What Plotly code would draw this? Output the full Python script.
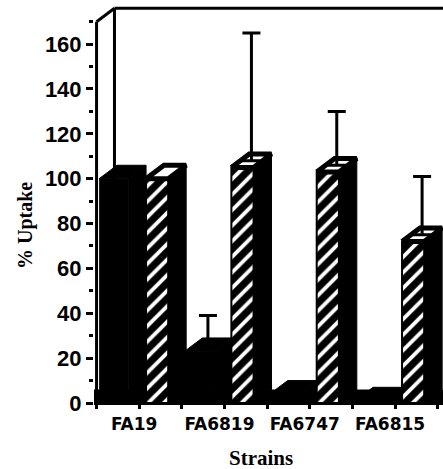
import plotly.graph_objects as go

# ---- data ----
strains = ["FA19", "FA6819", "FA6747", "FA6815"]
control = [100, 23, 4, 1]            # solid black bars
control_err = [None, 16, None, 3]
treated = [100, 105, 103, 72]        # hatched bars
treated_err = [None, 60, 27, 29]
y_tick_vals = [0, 20, 40, 60, 80, 100, 120, 140, 160]

# ---- geometry (pseudo 3-D) ----
DX = 0.21      # depth offset in category units
DY = 6         # depth offset in data units
YTOP = 170
BLACK_OFF, BLACK_W = -0.47, 0.34
HATCH_OFF, HATCH_W = 0.08, 0.26
XMIN, XMAX = -0.53, 3.56

x = list(range(len(strains)))


def faces(vals, off, w):
    sx, sy, tx, ty = [], [], [], []
    for i, v in enumerate(vals):
        a = i + off
        b = a + w
        sx += [b, b, b + DX, b + DX, b, None]
        sy += [0, v, v + DY, DY, 0, None]
        tx += [a, b, b + DX, a + DX, a, None]
        ty += [v, v, v + DY, v + DY, v, None]
    return sx, sy, tx, ty


def err_points(vals, errs, off, w):
    ex, ey, ep = [], [], []
    for i, (v, e) in enumerate(zip(vals, errs)):
        if e is None:
            continue
        ex.append(i + off + w / 2 + DX / 2)
        ey.append(v + DY / 2)
        ep.append(max(e - DY / 2, 0))
    return ex, ey, ep


fig = go.Figure()

fig.add_bar(x=x, y=control, offset=BLACK_OFF, width=BLACK_W,
            marker=dict(color="black", line=dict(width=0)), showlegend=False)
fig.add_bar(x=x, y=treated, offset=HATCH_OFF, width=HATCH_W,
            marker=dict(color="black", line=dict(color="black", width=2),
                        pattern=dict(shape="/", fgcolor="white", bgcolor="black",
                                     size=11, solidity=0.35, fillmode="replace")),
            showlegend=False)

for vals, off, w, topfill, toplw in [(control, BLACK_OFF, BLACK_W, "black", 1),
                                     (treated, HATCH_OFF, HATCH_W, "white", 5)]:
    sx, sy, tx, ty = faces(vals, off, w)
    fig.add_scatter(x=sx, y=sy, mode="lines", fill="toself", fillcolor="black",
                    line=dict(color="black", width=1), hoverinfo="skip", showlegend=False)
    fig.add_scatter(x=tx, y=ty, mode="lines", fill="toself", fillcolor=topfill,
                    line=dict(color="black", width=toplw), hoverinfo="skip", showlegend=False)

for vals, errs, off, w in [(control, control_err, BLACK_OFF, BLACK_W),
                           (treated, treated_err, HATCH_OFF, HATCH_W)]:
    ex, ey, ep = err_points(vals, errs, off, w)
    fig.add_scatter(x=ex, y=ey, mode="markers", marker=dict(size=1, color="rgba(0,0,0,0)"),
                    error_y=dict(type="data", array=ep, arrayminus=[0] * len(ep),
                                 symmetric=False, color="black", thickness=3, width=9),
                    hoverinfo="skip", showlegend=False)

shapes = [
    dict(type="rect", xref="x", yref="y", x0=XMIN, x1=XMAX, y0=0, y1=DY,
         fillcolor="black", line=dict(width=0), layer="below"),
    dict(type="line", xref="x", yref="y", x0=-0.5 + DX, x1=-0.5 + DX, y0=DY, y1=YTOP + DY,
         line=dict(color="black", width=3), layer="below"),
    dict(type="line", xref="x", yref="y", x0=-0.5 + DX, x1=XMAX, y0=YTOP + DY, y1=YTOP + DY,
         line=dict(color="black", width=3)),
    dict(type="line", xref="x", yref="y", x0=-0.5, x1=-0.5 + DX, y0=YTOP, y1=YTOP + DY,
         line=dict(color="black", width=3)),
    dict(type="line", xref="x", yref="y", x0=-0.5, x1=-0.5, y0=0, y1=YTOP,
         line=dict(color="black", width=3)),
]

fig.update_layout(
    width=443, height=469,
    margin=dict(l=94, r=0, t=6, b=66),
    plot_bgcolor="white", paper_bgcolor="white",
    barmode="overlay",
    shapes=shapes,
    xaxis=dict(range=[XMIN, XMAX], showgrid=False, zeroline=False,
               showline=True, linecolor="black", linewidth=2,
               tickmode="array", tickvals=[i - 0.06 for i in x], ticktext=strains,
               ticks="", ticklabelstandoff=5,
               tickfont=dict(family="DejaVu Sans", size=17, color="black", weight="bold"),
               minor=dict(tickmode="array", tickvals=[-0.5 + 0.5 * k for k in range(9)],
                          ticks="outside", ticklen=4, tickwidth=3, tickcolor="black")),
    yaxis=dict(range=[0, YTOP + DY + 1], showgrid=False, zeroline=False, showline=False,
               tickmode="array", tickvals=y_tick_vals,
               ticks="outside", ticklen=7, tickwidth=3, tickcolor="black",
               ticklabelstandoff=0,
               tickfont=dict(family="Liberation Sans", size=22, color="black", weight="bold"),
               minor=dict(tickmode="array", tickvals=list(range(10, 171, 20)),
                          ticks="outside", ticklen=4, tickwidth=3, tickcolor="black")),
    annotations=[
        dict(text="% Uptake", xref="paper", yref="paper", x=-0.198, y=0.448,
             xanchor="center", yanchor="middle",
             textangle=-90, showarrow=False,
             font=dict(family="Liberation Serif", size=20, color="black", weight="bold")),
        dict(text="Strains", xref="paper", yref="paper", x=0.478, y=-0.139,
             xanchor="center", yanchor="middle", showarrow=False,
             font=dict(family="Liberation Serif", size=21, color="black", weight="bold")),
    ],
)

fig.write_html("out.html", config={"displayModeBar": False},
               post_script="document.body.style.margin='0';")
